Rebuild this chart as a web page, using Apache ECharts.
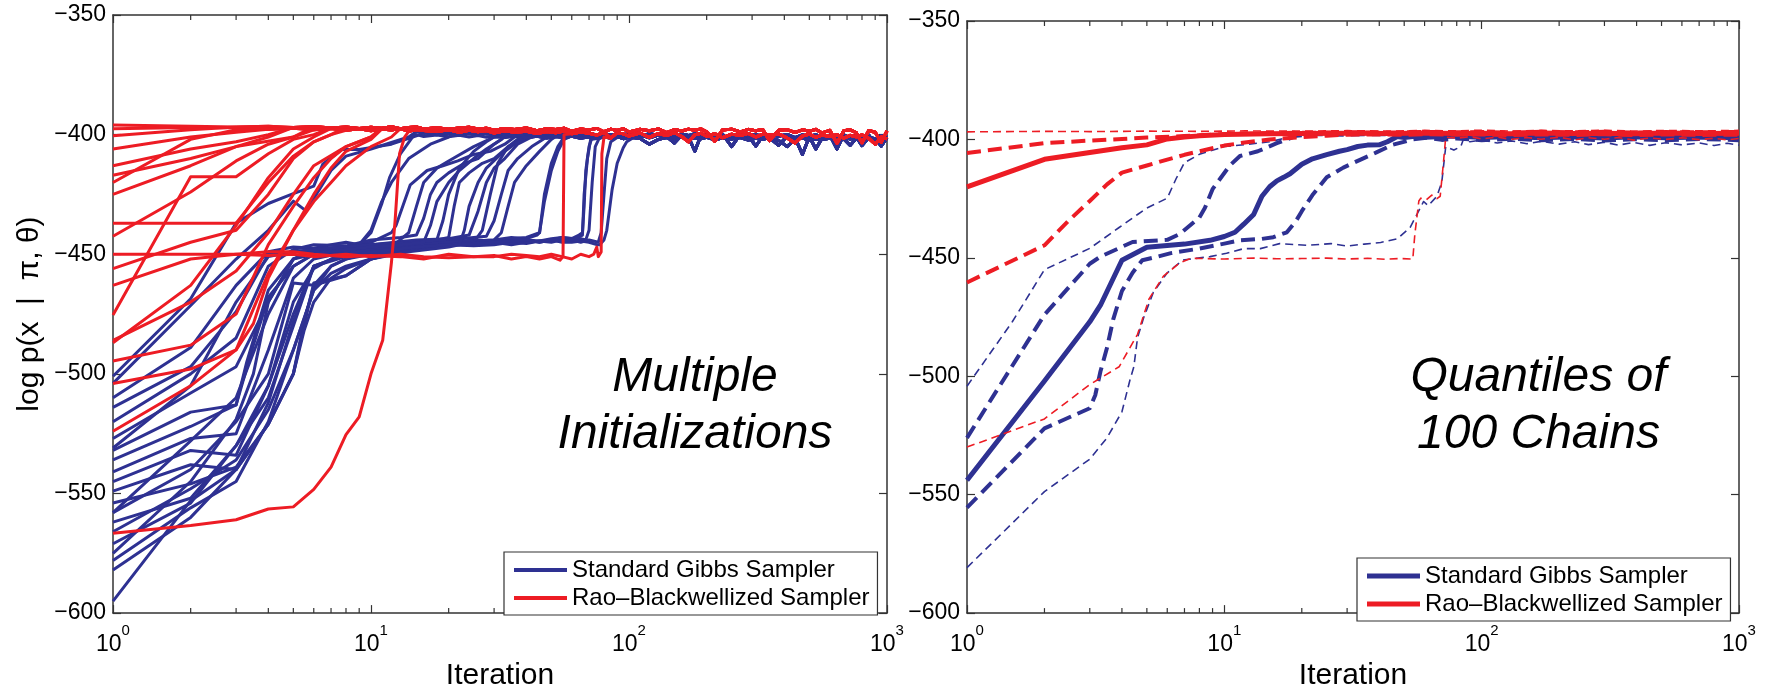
<!DOCTYPE html>
<html><head><meta charset="utf-8">
<script src="https://cdn.jsdelivr.net/npm/echarts@6.0.0/dist/echarts.min.js"></script>
<style>html,body{margin:0;padding:0;background:#fff}#c{width:1768px;height:696px}</style>
</head><body><div id="c"></div>
<script>
// ---------------- DATA ----------------
const NAME_G = 'Standard Gibbs Sampler';
const NAME_RB = 'Rao\u2013Blackwellized Sampler';
const xTickExponents = [0, 1, 2, 3];
const yTicks = [-600, -550, -500, -450, -400, -350];
const minorTicks = [2,3,4,5,6,7,8,9,20,30,40,50,60,70,80,90,200,300,400,500,600,700,800,900];

// Left panel: individual chains (iteration, log p) before they settle in the converged band
const gibbsChains = [
  [[1,-501],[2,-468.6],[3,-437],[4,-428.8],[5,-424.7],[6,-421.5],[6.5,-412.4],[7.7,-406.2],[9,-406.2],[12,-404],[15,-400.5]],
  [[1,-504],[2,-471.4],[3,-452],[4,-440],[5,-427.8],[5.6,-431.9],[6.3,-423],[7,-415],[8,-409],[10,-406],[14,-401]],
  [[1,-510],[2,-489],[3,-463],[4,-449],[5,-447],[6,-447.5],[7,-446],[8,-445],[9,-446],[10,-441],[11,-429],[11.8,-418],[13,-408],[14.6,-400.5]],
  [[1,-514],[2,-497],[3,-474],[4,-450],[5,-449],[6,-448],[8,-447],[10,-445],[12,-441],[12.5,-438],[14.2,-421],[16.5,-415],[19,-413],[21.7,-411],[25,-408.3],[29,-407],[33,-404],[36,-401]],
  [[1,-520],[2,-500],[3,-485],[4,-455],[5,-448],[6,-446],[8,-446.5],[10,-444],[13,-443],[15,-442],[16,-435],[17,-425],[18,-420],[20,-416],[23,-412],[26,-410],[30,-404],[33,-401]],
  [[1,-527],[2,-508],[3,-497],[4,-470],[5,-452],[6,-450],[8,-449],[10,-447],[14,-445],[18,-444],[20,-443],[21,-430],[22,-420],[24,-416],[27,-412],[30,-410],[34,-405],[40,-401]],
  [[1,-532],[2,-516],[3,-513],[3.3,-495],[4,-465],[5,-452],[6,-449],[8,-447],[10,-446],[15,-444],[20,-443.5],[24,-442],[26,-432],[28,-420],[30,-414],[33,-410],[37,-404],[42,-401]],
  [[1,-536],[2,-522],[3,-513],[3.5,-488],[4,-468],[5,-455],[6,-450],[8,-448],[10,-446],[15,-445],[20,-444],[25,-443],[28,-442.5],[30,-436],[32,-425],[34,-415],[37,-410],[42,-405],[48,-401]],
  [[1,-541],[2,-527],[3,-525],[4,-490],[5,-460],[6,-452],[8,-449],[10,-447],[15,-446],[20,-445],[25,-444.5],[30,-444],[32,-441],[34,-430],[36,-420],[40,-413],[45,-407],[50,-402]],
  [[1,-545],[2,-532],[3,-534],[4,-505],[5,-470],[6,-456],[7,-452],[8,-450],[10,-448],[15,-446],[20,-445],[25,-444],[30,-444.5],[35,-443.5],[40,-443],[45,-441],[47,-428],[50,-415],[53,-407],[56,-402]],
  [[1,-549],[2,-538],[3,-540],[4,-521],[5,-500],[5.5,-478],[6,-463],[7,-455],[8,-452],[10,-449],[12,-448],[15,-447],[20,-446],[25,-445.5],[30,-445],[35,-444.5],[40,-444],[45,-445],[50,-444],[55,-443],[60,-443.5],[64,-442],[66,-441],[67,-430],[68,-415],[70,-405],[72,-401]],
  [[1,-554],[2,-546],[3,-539],[4,-521],[5,-500],[6,-462],[8,-459],[10,-452],[14,-448],[20,-446],[25,-446.5],[30,-446],[35,-445],[40,-445.5],[45,-444.5],[50,-445],[55,-444],[60,-444.5],[65,-443.5],[68,-444],[70,-440],[72,-420],[74,-405],[77,-401]],
  [[1,-558],[2,-540],[3,-520],[4,-500],[5,-462],[6,-463],[8,-459],[10,-452],[12,-449],[15,-447],[20,-446],[25,-445.5],[30,-445],[35,-446],[40,-445],[45,-444.5],[50,-444],[55,-445],[60,-445],[65,-444.5],[70,-445],[75,-446],[77,-446],[80,-444],[82,-440],[86,-423],[90,-412],[95,-405.5],[98,-403],[105,-401]],
  [[1,-562],[2,-552],[3,-530],[4,-505],[5,-475],[6,-455],[8,-450],[10,-448],[15,-446],[20,-445],[30,-444],[35,-443],[40,-443.5],[44,-442],[45,-441],[47,-425],[50,-412],[53,-405],[56,-401]],
  [[1,-566],[2,-548],[3,-536],[4,-515],[5,-490],[6,-465],[7,-455],[8,-452],[10,-450],[12,-449],[15,-447],[20,-446],[25,-445],[27,-440],[29,-425],[31,-412],[34,-405],[38,-401]],
  [[1,-571],[2,-554],[3,-530],[4,-510],[5,-480],[6,-455],[8,-450],[10,-448],[12,-447],[14,-441],[15,-430],[16,-420],[18,-414],[20,-411],[25,-405],[30,-401]],
  [[1,-575],[2,-545],[3,-519],[3.5,-500],[4,-470],[5,-452],[6,-448],[8,-447],[9,-446],[10,-440],[11,-428],[12,-420],[14,-410],[17,-404],[20,-401]],
  [[1,-578],[2,-556],[3,-545],[4,-520],[5,-490],[6,-465],[7,-458],[8,-455],[10,-452],[12,-450],[15,-448],[20,-446],[25,-446],[30,-445],[35,-445.5],[40,-444],[45,-444.5],[50,-443.5],[55,-443],[62,-443.5],[66,-442],[67,-425],[69,-410],[71,-402]],
  [[1,-582],[2,-560],[3,-540],[4,-512],[5,-478],[6,-455],[8,-451],[10,-449],[15,-447],[20,-446],[25,-445.5],[30,-445],[35,-444.5],[40,-444],[45,-445],[50,-444],[55,-444.5],[60,-444],[65,-445],[70,-444],[76,-445],[78,-441],[80,-425],[82,-410],[85,-403]],
  [[1,-595],[2,-553],[3,-540],[4,-521],[5,-500],[5.5,-482],[6,-470],[7,-460],[8,-456],[10,-452],[14,-449],[20,-447],[22,-446],[23,-440],[24,-430],[26,-420],[28,-414],[32,-408],[36,-404],[40,-401]],
  [[1,-531],[2,-505],[3,-470],[4,-451],[5,-449],[6,-448],[8,-447],[10,-446],[15,-445],[18,-444],[19,-436],[20,-425],[22,-414],[25,-407],[28,-403],[30,-401]],
  [[1,-558],[2,-528],[3,-510],[4,-475],[5,-455],[6,-450],[8,-448],[10,-447],[13,-446],[16,-445],[17,-438],[18,-428],[20,-420],[22,-415],[25,-410],[28,-406],[32,-402]]
];

const rbChains = [
  [[1,-396]],
  [[1,-397.5],[2,-397]],
  [[1,-400.5],[2,-398]],
  [[1,-406],[2,-401],[3,-399]],
  [[1,-413],[2,-406],[3,-403],[4,-400]],
  [[1,-417],[2,-410],[3,-405],[5,-401]],
  [[1,-425],[2,-413],[3,-405],[4,-401]],
  [[1,-437],[2,-437],[3,-437],[4,-420],[5,-409],[6,-403],[7,-400]],
  [[1,-442.5],[2,-424],[3,-411],[4,-404],[5,-401]],
  [[1,-450],[2,-450],[3,-450],[4,-450.5],[5,-450],[6,-451],[8,-450],[10,-451],[13,-450],[16,-451],[20,-451.5],[25,-451],[30,-450.5],[35,-452],[40,-451],[45,-452],[50,-451],[54,-452.5],[55.5,-451],[56,-400]],
  [[1,-456],[2,-445],[3,-440],[4,-425],[5,-410],[6,-403],[7,-400]],
  [[1,-463],[2,-452],[3,-450],[4,-449],[5,-449],[6,-450],[8,-451],[10,-450.5],[13,-451],[16,-452],[20,-450],[25,-451],[30,-451],[35,-450],[40,-450.5],[45,-451],[50,-450],[55,-451],[60,-452],[65,-450],[70,-451],[73,-450],[75,-447],[76,-451],[78,-449],[78.5,-408],[80,-401]],
  [[1,-475.4],[2,-417.6],[3,-417.6],[4,-408],[5,-402],[6,-400]],
  [[1,-487],[2,-463],[3,-438],[4,-418],[5,-406],[6,-401]],
  [[1,-494.6],[2,-488],[3,-475],[4,-446],[5,-430],[6,-418],[7,-410],[8,-405],[10,-401]],
  [[1,-504],[2,-498],[3,-490],[3.5,-479],[4,-460],[5,-440],[6,-425],[7,-414],[8,-407],[10,-402]],
  [[1,-524],[2,-505],[3,-490],[4,-458],[5,-440],[6,-428],[7,-420],[8,-413],[10,-405],[12,-401]],
  [[1,-566.6],[2,-563.4],[3,-561],[4,-556.5],[5,-555.6],[6,-548.3],[7,-539],[8,-525.4],[9,-518],[10,-500],[11.1,-486],[12,-453.5],[12.4,-436],[12.9,-408],[13.5,-401]],
  [[1,-486],[2,-470],[3,-457],[4,-441],[5,-425],[6,-413],[8,-405],[10,-401]],
  [[1,-420],[2,-402],[3,-398]]
];

// Converged band, shared iteration grid
const tailIters = [2,3,4,5,6,7,8,9,10,11,12,13,14,15,16,
  18,20,22,24,26,28,30,
  33,36,40,44,48,52,56,60,
  65,70,75,80,85,90,95,100,
  110,120,130,140,150,160,170,180,190,200,
  215,230,250,270,290,310,330,350,
  380,410,440,470,500,530,560,
  600,640,680,720,760,800,
  850,900,950,1000];
const rbTailA = [-396.5,-396.8,-396.5,-397,-396.6,-397.2,-396.8,-397.4,-396.9,-397.3,-396.7,-397.5,-397,-396.8,-397.6,
  -397.1,-397.8,-397.2,-396.9,-397.6,-397.3,-398.2,
  -397.4,-397.9,-397.2,-398.4,-397.5,-397.9,-397.3,-398.6,
  -397.6,-398.1,-397.4,-398.8,-397.7,-398.3,-397.5,-398.9,
  -397.8,-398.4,-397.6,-399.2,-397.9,-398.5,-397.7,-398.2,-397.6,-398.8,
  -402.8,-398.1,-397.7,-398.9,-397.8,-398.4,-397.9,-402.5,
  -398.2,-397.9,-399.1,-398,-398.6,-397.8,-399.3,
  -398.2,-403.6,-398.4,-398,-399.2,-403.4,
  -398.3,-399,-403.2,-398.5];
const rbTailB = [-397.4,-397.1,-397.8,-397.3,-398,-397.4,-398.2,-397.6,-398.4,-397.7,-398.1,-397.5,-398.6,-397.9,-398.3,
  -398.7,-398,-399,-398.2,-398.8,-398.3,-399.3,
  -398.4,-399,-398.6,-399.5,-398.7,-399.2,-398.5,-399.6,
  -398.9,-399.4,-400.2,-399.1,-401.5,-399.2,-399.7,-400.6,
  -399.3,-401.2,-399.5,-400.4,-399.2,-400.8,-403,-400.1,-399.4,-400.7,
  -399.6,-401.3,-399.8,-400.4,-399.5,-401,-399.8,-400.3,
  -399.7,-401.4,-403.5,-400.6,-399.8,-401.1,-400.2,
  -400.8,-400,-401.5,-400.3,-400.9,-400.1,
  -401.6,-404,-401,-401.8];
const gibbsTailA = [-399,-399.3,-398.8,-399.5,-399,-399.6,-399.1,-399.8,-399.2,-399.7,-399.3,-400,-399.4,-399.9,-399.3,
  -400.1,-399.5,-400.2,-399.6,-400.4,-399.7,-400.2,
  -399.6,-400.6,-399.8,-400.3,-399.7,-400.8,-399.9,-400.5,
  -399.8,-401,-400,-400.6,-399.9,-401.2,-400.1,-400.7,
  -400,-401.3,-400.2,-400.8,-403.5,-400.3,-401,-406.9,-400.4,-401.1,
  -400.3,-401.4,-400.5,-401,-400.4,-404.8,-400.6,-401.2,
  -404.5,-400.7,-401.3,-408.3,-400.8,-406,-401.4,
  -400.9,-401.6,-400.8,-401.9,-401,-404.6,
  -401.2,-401.7,-404.8,-401.3];
const gibbsTailB = [-398.5,-398.2,-398.9,-398.4,-399.1,-398.5,-399.3,-398.7,-399,-398.6,-399.4,-398.8,-399.2,-398.7,-399.5,
  -398.9,-399.4,-398.8,-399.6,-399,-399.7,-399.1,
  -400.2,-399.2,-399.8,-399.1,-400.4,-399.3,-399.9,-399.2,
  -400.5,-399.4,-400.1,-399.3,-400.6,-399.5,-400.2,-399.4,
  -400.8,-399.6,-400.3,-399.5,-400.9,-399.7,-400.4,-399.6,-401,-399.8,
  -400.5,-399.7,-405,-399.9,-400.6,-399.8,-401.2,-400,
  -400.7,-399.9,-401.3,-400.1,-400.8,-400,-401.4,
  -400.2,-406,-400.1,-401.5,-400.3,-401,
  -400.2,-404,-400.4,-401.1];
const gibbsTailC = [-400,-399.6,-400.3,-399.8,-400.5,-399.9,-400.6,-400,-400.4,-399.9,-400.7,-400.1,-400.5,-400,-400.8,
  -400.2,-400.9,-400.3,-401,-400.4,-401.1,-400.5,
  -401.2,-400.6,-401.3,-400.7,-401.4,-400.8,-401.2,-400.7,
  -401.5,-400.9,-401.6,-401,-401.4,-400.8,-401.7,-401.1,
  -401.5,-404,-402,-401.2,-401.6,-401,-402.1,-401.3,-401.7,-401.1,
  -402.2,-401.4,-401.8,-401.2,-402.3,-401.5,-401.9,-401.3,
  -402.4,-405,-402,-401.4,-402.5,-401.7,-402.1,
  -401.5,-402.6,-401.8,-404.5,-401.6,-402.7,
  -401.9,-402.3,-401.7,-402.4];

// Right panel: quantiles of 100 chains
const gibbsMedian = [[1,-543.9],[2,-502],[3,-477],[3.3,-470],[4,-451],[5,-445.5],[7,-444.2],[8.8,-442.6],[10,-441],[11,-439.2],[11.9,-435.8],[13,-431.7],[14,-424],[15,-420],[16,-417.5],[17,-416],[18,-414.5],[20,-410.5],[22,-408.2],[25,-406.4],[28,-405],[30,-404.3],[33,-403],[36,-402.4],[40,-402.3],[43,-401],[47,-398.8],[50,-399.2],[55,-398.7],[60,-399.1],[80,-398.6],[100,-399.2],[130,-398.8],[170,-399.3],[230,-398.9],[300,-399.4],[390,-398.9],[520,-399.3],[700,-399],[1000,-399.3]];
const gibbsQ75 = [[1,-526],[2,-474],[3,-452.5],[3.3,-449.5],[4.4,-443.3],[6,-442.4],[6.7,-440],[8,-433],[8.4,-429],[9,-421],[10.5,-411],[11.5,-407],[13.5,-405],[16,-401.6],[19,-398.5],[22,-397.8],[30,-398],[40,-397.7],[50,-398.1],[60,-397.8],[80,-398.2],[100,-397.9],[130,-398.3],[170,-397.9],[230,-398.2],[300,-397.8],[390,-398.3],[520,-397.9],[700,-398.2],[1000,-397.9]];
const gibbsQ25 = [[1,-555.5],[2,-522],[3,-513.5],[3.15,-508],[3.3,-498],[3.5,-488],[3.7,-476],[4,-464],[4.4,-456.3],[4.8,-451],[5.5,-449.5],[6.2,-448],[8,-446.1],[10,-444],[11.5,-442.6],[14,-442],[15.5,-441.3],[17.5,-439.2],[19,-434.4],[20,-430.3],[22,-423.5],[25,-416],[29,-411.9],[34,-408.4],[39,-405.5],[45,-402.3],[54,-400],[61,-399.3],[70,-400.2],[80,-399.6],[100,-400.3],[130,-399.7],[170,-400.4],[230,-399.8],[300,-400.5],[390,-399.9],[520,-400.4],[700,-399.8],[1000,-400.3]];
const gibbsQ95 = [[1,-504.2],[1.5,-477],[2,-455],[3,-446],[3.9,-437.2],[4.6,-431.7],[5,-429],[6,-424.8],[6.5,-416.5],[7,-409.8],[8,-406.3],[10,-403],[12,-402.2],[15,-401],[18,-399],[20,-397.6],[25,-397.3],[30,-397.5],[40,-397.2],[50,-397.6],[60,-397.3],[80,-397.7],[100,-397.2],[130,-397.8],[170,-397.3],[230,-397.7],[300,-397.4],[390,-397.8],[520,-397.3],[700,-397.7],[1000,-397.4]];
const gibbsQ5 = [[1,-580.8],[2,-548.7],[3,-535],[3.5,-526],[4,-515],[4.3,-501.5],[4.45,-496],[4.6,-483.7],[4.85,-475.5],[5.3,-464.5],[6,-456.3],[6.9,-450.9],[8.8,-449.5],[10.2,-448.1],[11.9,-446.1],[13.8,-446.1],[16.4,-444],[21,-444.7],[26,-444],[30,-445],[35,-444.2],[40.5,-443.5],[47,-442],[52.7,-437.2],[56,-431.7],[59.5,-426.2],[62,-428],[67,-424],[70,-418],[72.5,-403],[78,-404.5],[83,-403],[85,-399.8],[90,-401],[100,-400.2],[115,-401.5],[130,-400.6],[150,-401.8],[170,-400.8],[200,-402],[230,-401],[260,-402.2],[300,-401.2],[340,-402.4],[390,-401.3],[450,-402.5],[520,-401.4],[600,-402.3],[700,-401.5],[800,-402.6],[900,-401.6],[1000,-402.4]];
const rbMedian = [[1,-420],[2,-408.4],[3,-405.5],[4,-403.5],[5,-402.3],[6,-399.8],[7,-399],[8,-398.5],[10,-397.9],[15,-397.6],[20,-397.5],[30,-397.4],[45,-397.5],[60,-397.3],[80,-397.5],[100,-397.4],[130,-397.6],[170,-397.3],[230,-397.5],[300,-397.4],[390,-397.6],[520,-397.3],[700,-397.5],[1000,-397.4]];
const rbQ75 = [[1,-405.7],[2,-401.6],[3,-400.5],[4,-399.8],[5,-399.2],[7,-398.6],[10,-397.8],[15,-397.3],[20,-397.2],[30,-397],[45,-397.1],[60,-396.8],[80,-397],[100,-396.9],[130,-397.1],[170,-396.8],[230,-397],[300,-396.8],[390,-397.1],[520,-396.9],[700,-397],[1000,-396.8]];
const rbQ25 = [[1,-460.4],[2,-444.7],[2.5,-434],[3,-426],[3.5,-419],[4,-414],[5,-411],[6,-408.5],[7,-406.5],[8,-405],[10,-402.6],[12,-401.3],[15,-400],[20,-399],[25,-398.4],[30,-398],[40,-397.9],[50,-398.1],[60,-397.8],[80,-398],[100,-397.9],[130,-398.2],[170,-397.9],[230,-398.1],[300,-397.8],[390,-398.2],[520,-397.9],[700,-398.1],[1000,-398]];
const rbQ95 = [[1,-396.8],[2,-396.6],[3,-396.7],[5,-396.5],[8,-396.6],[12,-396.4],[20,-396.5],[30,-396.3],[45,-396.5],[60,-396.2],[80,-396.4],[100,-396.1],[130,-396.5],[170,-396.2],[230,-396.4],[300,-396.1],[390,-396.5],[520,-396.2],[700,-396.4],[1000,-396.2]];
const rbQ5 = [[1,-529.9],[2,-518],[3,-503.5],[3.9,-496],[4.6,-482.3],[5.1,-467.3],[5.8,-457.7],[6.7,-452.2],[7.4,-450.2],[10,-450.5],[13,-450.1],[16,-450.4],[20,-450.3],[25,-450.1],[30,-450.5],[36,-450.2],[42,-450.6],[48,-450.3],[54,-450.5],[55,-440],[57,-426],[58,-424.8],[61,-425.5],[64,-423.5],[67,-425],[69,-424],[71,-410],[72.5,-399],[80,-399.5],[90,-398.8],[100,-399.8],[115,-399],[130,-400],[150,-399.2],[170,-399.9],[200,-399.1],[230,-400.2],[260,-399.3],[300,-399.9],[340,-399.2],[390,-400.3],[450,-399.4],[520,-400],[600,-399.3],[700,-400.1],[800,-399.5],[900,-400.2],[1000,-399.6]];

// ---------------- CHART ----------------
const FONT = '"Liberation Sans", Arial, Helvetica, sans-serif';
const BLUE = '#2e3192', RED = '#ed1c24', AX = '#333333';
const gibbsTails = [gibbsTailA, gibbsTailB, gibbsTailC];
const rbTails = [rbTailA, rbTailB];

function withTail(chain, vals) {
  const last = chain[chain.length - 1][0];
  const out = chain.slice();
  tailIters.forEach((t, i) => { if (t > last) out.push([t, vals[i]]); });
  return out;
}
function lineSeries(name, color, data, axisIdx, width, type) {
  return {
    type: 'line', name, xAxisIndex: axisIdx, yAxisIndex: axisIdx, data,
    showSymbol: false, symbol: 'none', silent: true, animation: false, z: 2,
    itemStyle: { color }, emphasis: { disabled: true },
    lineStyle: { color, width, type, cap: 'butt', join: 'round' }
  };
}
function minorTickSeries(axisIdx) {
  return {
    type: 'custom', xAxisIndex: axisIdx, yAxisIndex: axisIdx, silent: true, clip: false, z: 3,
    animation: false,
    data: minorTicks.map(v => [v, yTicks[0]]),
    renderItem(params, api) {
      const x = api.coord([api.value(0), api.value(1)])[0];
      const cs = params.coordSys;
      const st = { stroke: AX, lineWidth: 1.2 };
      return { type: 'group', children: [
        { type: 'line', shape: { x1: x, y1: cs.y + cs.height, x2: x, y2: cs.y + cs.height - 5 }, style: st },
        { type: 'line', shape: { x1: x, y1: cs.y, x2: x, y2: cs.y + 5 }, style: st }
      ] };
    }
  };
}

const series = [];
gibbsChains.forEach((c, k) => series.push(lineSeries(NAME_G, BLUE, withTail(c, gibbsTails[k % 3]), 0, 3, 'solid')));
rbChains.forEach((c, k) => series.push(lineSeries(NAME_RB, RED, withTail(c, rbTails[k % 2]), 0, 3, 'solid')));
series.push(lineSeries(NAME_G, BLUE, gibbsQ5, 2, 1.6, [8, 5]));
series.push(lineSeries(NAME_G, BLUE, gibbsQ95, 2, 1.6, [8, 5]));
series.push(lineSeries(NAME_G, BLUE, gibbsQ25, 2, 4, [14, 7]));
series.push(lineSeries(NAME_G, BLUE, gibbsQ75, 2, 4, [14, 7]));
series.push(lineSeries(NAME_G, BLUE, gibbsMedian, 2, 5, 'solid'));
series.push(lineSeries(NAME_RB, RED, rbQ5, 2, 1.6, [8, 5]));
series.push(lineSeries(NAME_RB, RED, rbQ95, 2, 1.6, [8, 5]));
series.push(lineSeries(NAME_RB, RED, rbQ25, 2, 4, [14, 7]));
series.push(lineSeries(NAME_RB, RED, rbQ75, 2, 4, [14, 7]));
series.push(lineSeries(NAME_RB, RED, rbMedian, 2, 5, 'solid'));
series.push(minorTickSeries(0));
series.push(minorTickSeries(2));

const axisLine = { show: true, onZero: false, lineStyle: { color: AX, width: 1.5 } };
function xAx(grid, pos, withLabels) {
  const a = {
    gridIndex: grid, type: 'log', logBase: 10, min: 1, max: 1000, position: pos,
    axisLine, splitLine: { show: false },
    axisTick: { show: true, inside: true, length: 8, lineStyle: { color: AX, width: 1.2 } },
    axisLabel: { show: false }
  };
  if (withLabels) {
    a.axisLabel = {
      show: true, margin: 10, showMinLabel: true, showMaxLabel: true,
      formatter: v => '{b|10}{s|' + xTickExponents[Math.round(Math.log10(v))] + '}',
      rich: {
        b: { fontSize: 23, fontFamily: FONT, color: '#000', lineHeight: 33, verticalAlign: 'bottom' },
        s: { fontSize: 15, fontFamily: FONT, color: '#000', lineHeight: 15, verticalAlign: 'top' }
      }
    };
    a.name = 'Iteration';
    a.nameLocation = 'middle';
    a.nameGap = 44;
    a.nameTextStyle = { fontSize: 30, fontFamily: FONT, color: '#000' };
  }
  return a;
}
function yAx(grid, pos, withLabels, withName) {
  const a = {
    gridIndex: grid, type: 'value', min: yTicks[0], max: yTicks[yTicks.length - 1], interval: 50, position: pos,
    axisLine, splitLine: { show: false },
    axisTick: { show: true, inside: true, length: 8, lineStyle: { color: AX, width: 1.2 } },
    axisLabel: withLabels ? {
      show: true, margin: 7, fontSize: 23, fontFamily: FONT, color: '#000',
      formatter: v => (v < 0 ? '\u2212' + Math.abs(v) : String(v))
    } : { show: false }
  };
  if (withName) {
    a.name = 'log p(x  |  \u03c0, \u03b8)';
    a.nameLocation = 'middle';
    a.nameRotate = 90;
    a.nameGap = 68;
    a.nameTextStyle = { fontSize: 30, fontFamily: FONT, color: '#000' };
  }
  return a;
}
function legendAt(left, top, ih) {
  return {
    left, top, z: 20, orient: 'vertical', icon: 'rect', itemWidth: 53, itemHeight: ih, itemGap: 4,
    padding: [6, 8, 5, 10], borderColor: AX, borderWidth: 1.2, backgroundColor: '#fff',
    selectedMode: false,
    textStyle: { fontSize: 24, fontFamily: FONT, color: '#000', lineHeight: 24 },
    data: [NAME_G, NAME_RB]
  };
}

const option = {
  animation: false,
  backgroundColor: '#fff',
  grid: [
    { left: 113, top: 15, width: 774, height: 608 },
    { left: 967, top: 21, width: 772, height: 609 }
  ],
  xAxis: [xAx(0, 'bottom', true), xAx(0, 'top', false), xAx(1, 'bottom', true), xAx(1, 'top', false)],
  yAxis: [yAx(0, 'left', true, true), yAx(0, 'right', false, false), yAx(1, 'left', true, false), yAx(1, 'right', false, false)],
  legend: [legendAt(504, 552, 4), legendAt(1357, 558, 5)],
  graphic: [
    { type: 'text', x: 695, y: 406, silent: true,
      style: { text: 'Multiple\nInitializations', font: 'italic 48px ' + FONT, fill: '#000',
               align: 'center', verticalAlign: 'middle', lineHeight: 57 } },
    { type: 'text', x: 1538.5, y: 406, silent: true,
      style: { text: 'Quantiles of\n100 Chains', font: 'italic 48px ' + FONT, fill: '#000',
               align: 'center', verticalAlign: 'middle', lineHeight: 57 } }
  ],
  series
};

const chart = echarts.init(document.getElementById('c'), null, { renderer: 'canvas' });
chart.setOption(option);
</script></body></html>
